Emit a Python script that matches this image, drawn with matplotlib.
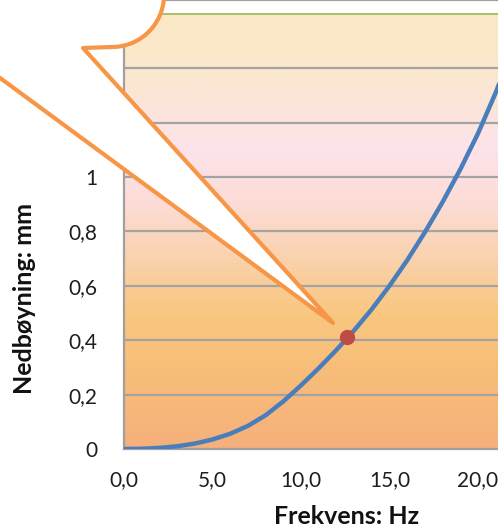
import numpy as np
import matplotlib.pyplot as plt
from matplotlib.colors import LinearSegmentedColormap
from matplotlib.path import Path
from matplotlib.patches import PathPatch

# --- data ---
frekvens = list(range(0, 23))
nedboyning = [0, 0.001, 0.004, 0.010, 0.020, 0.035, 0.056, 0.085, 0.124, 0.175,
              0.234, 0.297, 0.364, 0.436, 0.514, 0.600, 0.694, 0.797, 0.908,
              1.028, 1.160, 1.31, 1.48]
punkt_f = [12.6]
punkt_y = [0.41]
x_ticks = [0, 5, 10, 15, 20]
y_ticks = [0, 0.2, 0.4, 0.6, 0.8, 1.0, 1.2, 1.4, 1.6]

W, H = 498, 532
fig = plt.figure(figsize=(W / 100, H / 100), dpi=100)
plt.rcParams['font.family'] = ['Lato', 'DejaVu Sans']

x0, y0 = 124, 449          # pixel of origin
ax = fig.add_axes([x0 / W, 1 - y0 / H, 1 - x0 / W, y0 / H])
ax.set_xlim(0, (W - x0) / 17.7)
ax.set_ylim(0, y0 / 272.0)

# gradient background (bottom -> top)
stops = [(0.0, '#F6B07C'), (0.3 / 1.6, '#F8BE78'), (0.5 / 1.6, '#F9C780'),
         (0.7 / 1.6, '#FAD2AE'), (0.9 / 1.6, '#FCDCD6'), (1.1 / 1.6, '#FDE3EA'),
         (1.3 / 1.6, '#FBE6D6'), (1.45 / 1.6, '#FBE8CA'), (1.0, '#FBE9C7')]
cmap = LinearSegmentedColormap.from_list('bg', stops)
grad = np.linspace(0, 1, 256).reshape(-1, 1)
ax.imshow(grad, cmap=cmap, origin='lower', aspect='auto',
          extent=[0, ax.get_xlim()[1], 0, 1.6], zorder=0)

for v in y_ticks[1:-1]:
    ax.axhline(v, color='#A3A3A3', lw=1.6, zorder=1)
ax.axhline(1.6, color='#9BBB59', lw=1.2, zorder=1)

ax.plot(frekvens, nedboyning, color='#4A7EBB', lw=3.2, zorder=3,
        solid_capstyle='round', solid_joinstyle='round')
ax.plot(punkt_f, punkt_y, 'o', color='#BE4B48', ms=10, zorder=4)

for side in ['left', 'bottom', 'top']:
    ax.spines[side].set_color('#A0A0A0')
    ax.spines[side].set_linewidth(1.6)
ax.spines['right'].set_visible(False)

ax.set_xticks(x_ticks)
ax.set_xticklabels([f'{v:.1f}'.replace('.', ',') for v in x_ticks])
ax.set_yticks(y_ticks)
ax.set_yticklabels(['0' if v == 0 else ('1' if v == 1 else f'{v:g}'.replace('.', ','))
                    for v in y_ticks])
ax.tick_params(length=0, labelsize=15, colors='#1E1E1E')
ax.tick_params(axis='y', pad=19)
ax.tick_params(axis='x', pad=15)

ax.set_xlabel('Frekvens: Hz', fontsize=18, fontweight='bold', color='#111111')
ax.set_ylabel('Nedbøyning: mm', fontsize=18, fontweight='bold', color='#111111')
ax.xaxis.set_label_coords((347 - x0) / (W - x0), -(517 - y0) / y0, transform=ax.transAxes)
ax.yaxis.set_label_coords(-(x0 - 25) / (W - x0), (y0 - 298) / y0, transform=ax.transAxes)
ax.xaxis.label.set_va('center')
ax.yaxis.label.set_va('center')

# callout bubble (pixel coords, y down)
def fpt(px, py):
    return (px / W, 1 - py / H)

cx, cy, r = 112, -5, 52
arc = [(cx + r * np.cos(a), cy + r * np.sin(a)) for a in np.linspace(np.pi / 2, np.arctan2(5, 52), 20)]
pts = [(-300, 47), (-42, 47), (333, 323), (83, 48)] + arc + [(175, -30), (-300, -30)]
verts = [fpt(*p) for p in pts] + [fpt(*pts[0])]
codes = [Path.MOVETO] + [Path.LINETO] * (len(verts) - 2) + [Path.CLOSEPOLY]
bubble = PathPatch(Path(verts, codes), facecolor='white', edgecolor='#F79646',
                   lw=3, joinstyle='round', transform=fig.transFigure, zorder=10)
fig.add_artist(bubble)

fig.savefig('out.png', dpi=100)
